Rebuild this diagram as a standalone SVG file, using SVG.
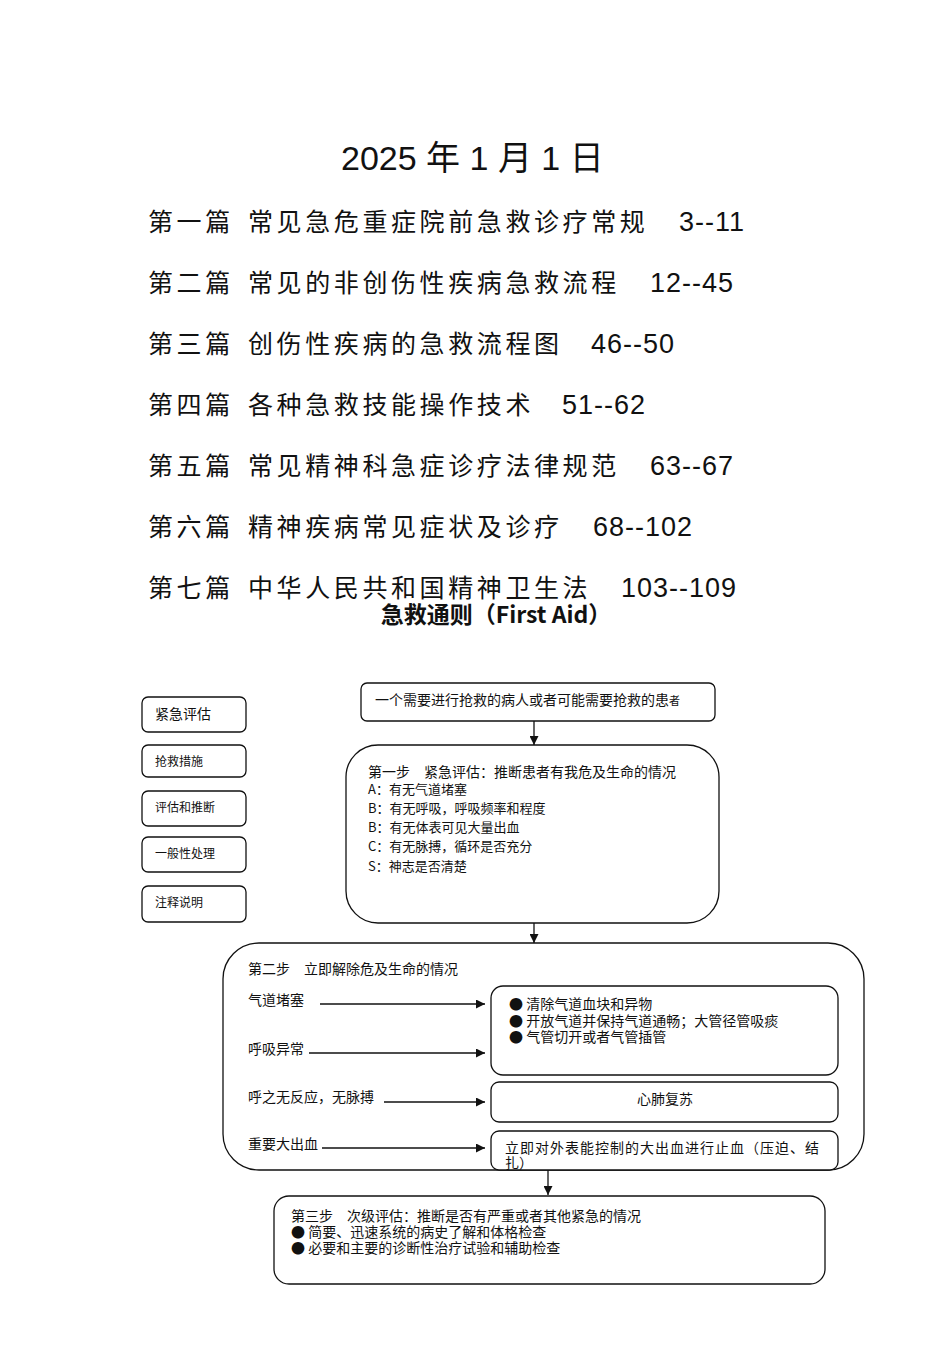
<svg xmlns="http://www.w3.org/2000/svg" width="950" height="1346" viewBox="0 0 950 1346">
<style>
.cjk{font-family:"Noto Sans CJK SC","Liberation Sans",sans-serif;fill:#111}
.num{font-family:"Liberation Sans","Noto Sans CJK SC",sans-serif;fill:#111}
.toc{font-size:25px;letter-spacing:3.6px}
.tnum{font-size:27px;letter-spacing:1px}
.box{fill:#fff;stroke:#111;stroke-width:1.3}
.t14{font-size:14px}
.t13{font-size:13px}
.t12{font-size:12px}
.con{stroke:#111;stroke-width:1.3;fill:none}
</style>
<defs>
<marker id="ah" viewBox="0 0 10 10" refX="10" refY="5" markerWidth="10" markerHeight="9" markerUnits="userSpaceOnUse" orient="auto">
<path d="M0,0 L10,5 L0,10 z" fill="#111"/>
</marker>
</defs>
<rect width="950" height="1346" fill="#fff"/>

<g id="title">
<text class="num" x="341" y="170" font-size="34">2025 <tspan class="cjk">年</tspan> 1 <tspan class="cjk">月</tspan> 1 <tspan class="cjk">日</tspan></text>
</g>

<g id="toc">
<text class="cjk toc" x="148" y="231">第一篇</text><text class="cjk toc" x="248" y="231">常见急危重症院前急救诊疗常规</text><text class="num tnum" x="679" y="231">3--11</text>
<text class="cjk toc" x="148" y="292">第二篇</text><text class="cjk toc" x="248" y="292">常见的非创伤性疾病急救流程</text><text class="num tnum" x="650" y="292">12--45</text>
<text class="cjk toc" x="148" y="353">第三篇</text><text class="cjk toc" x="248" y="353">创伤性疾病的急救流程图</text><text class="num tnum" x="591" y="353">46--50</text>
<text class="cjk toc" x="148" y="414">第四篇</text><text class="cjk toc" x="248" y="414">各种急救技能操作技术</text><text class="num tnum" x="562" y="414">51--62</text>
<text class="cjk toc" x="148" y="475">第五篇</text><text class="cjk toc" x="248" y="475">常见精神科急症诊疗法律规范</text><text class="num tnum" x="650" y="475">63--67</text>
<text class="cjk toc" x="148" y="536">第六篇</text><text class="cjk toc" x="248" y="536">精神疾病常见症状及诊疗</text><text class="num tnum" x="593" y="536">68--102</text>
<text class="cjk toc" x="148" y="597">第七篇</text><text class="cjk toc" x="248" y="597">中华人民共和国精神卫生法</text><text class="num tnum" x="621" y="597">103--109</text>
</g>

<g id="heading">
<text class="cjk" x="496" y="623" font-size="23" font-weight="bold" text-anchor="middle">急救通则（First Aid）</text>
</g>

<g id="legend">
<g id="legend-1"><rect class="box" x="142" y="697" width="104" height="35" rx="6"/><text class="cjk t14" x="155" y="719">紧急评估</text></g>
<g id="legend-2"><rect class="box" x="142" y="745" width="104" height="32" rx="6"/><text class="cjk t12" x="155" y="766">抢救措施</text></g>
<g id="legend-3"><rect class="box" x="142" y="791" width="104" height="35" rx="6"/><text class="cjk t12" x="155" y="812">评估和推断</text></g>
<g id="legend-4"><rect class="box" x="142" y="837" width="104" height="35" rx="6"/><text class="cjk t12" x="155" y="858">一般性处理</text></g>
<g id="legend-5"><rect class="box" x="142" y="886" width="104" height="36" rx="6"/><text class="cjk t12" x="155" y="907">注释说明</text></g>
</g>

<g id="start">
<rect class="box" x="361" y="683" width="354" height="38" rx="6"/>
<text class="cjk t14" x="375" y="705">一个需要进行抢救的病人或者可能需要抢救的患<tspan font-size="11">者</tspan></text>
</g>

<g id="step1">
<rect class="box" x="346" y="745" width="373" height="178" rx="32"/>
<text class="cjk t14" x="368" y="777">第一步　紧急评估：推断患者有我危及生命的情况</text>
<text class="cjk t13" x="368" y="794">A：有无气道堵塞</text>
<text class="cjk t13" x="368" y="813">B：有无呼吸，呼吸频率和程度</text>
<text class="cjk t13" x="368" y="832">B：有无体表可见大量出血</text>
<text class="cjk t13" x="368" y="851">C：有无脉搏，循环是否充分</text>
<text class="cjk t13" x="368" y="871">S：神志是否清楚</text>
</g>

<g id="step2">
<rect class="box" x="223" y="943" width="641" height="227" rx="36"/>
<text class="cjk t14" x="248" y="974">第二步　立即解除危及生命的情况</text>
<text class="cjk t14" x="248" y="1005">气道堵塞</text>
<text class="cjk t14" x="248" y="1054">呼吸异常</text>
<text class="cjk t14" x="248" y="1102">呼之无反应，无脉搏</text>
<text class="cjk t14" x="248" y="1149">重要大出血</text>
</g>

<g id="airway-box">
<rect class="box" x="491" y="986" width="347" height="89" rx="12"/>
<text class="cjk t14" x="509" y="1009">● 清除气道血块和异物</text>
<text class="cjk t14" x="509" y="1026">● 开放气道并保持气道通畅；大管径管吸痰</text>
<text class="cjk t14" x="509" y="1042">● 气管切开或者气管插管</text>
</g>

<g id="cpr-box">
<rect class="box" x="491" y="1082" width="347" height="40" rx="8"/>
<text class="cjk t14" x="665" y="1104" text-anchor="middle">心肺复苏</text>
</g>

<g id="bleed-box">
<rect class="box" x="491" y="1131" width="347" height="39" rx="8"/>
<text class="cjk t14" x="505" y="1153" letter-spacing="1">立即对外表能控制的大出血进行止血（压迫、结</text>
<text class="cjk t14" x="505" y="1168">扎）</text>
</g>

<g id="step3">
<rect class="box" x="274" y="1196" width="551" height="88" rx="15"/>
<text class="cjk t14" x="291" y="1221">第三步　次级评估：推断是否有严重或者其他紧急的情况</text>
<text class="cjk t14" x="291" y="1237">● 简要、迅速系统的病史了解和体格检查</text>
<text class="cjk t14" x="291" y="1253">● 必要和主要的诊断性治疗试验和辅助检查</text>
</g>

<g id="connectors">
<line class="con" x1="534" y1="721" x2="534" y2="745" marker-end="url(#ah)"/>
<line class="con" x1="534" y1="923" x2="534" y2="943" marker-end="url(#ah)"/>
<line class="con" x1="320" y1="1004" x2="485" y2="1004" marker-end="url(#ah)"/>
<line class="con" x1="309" y1="1053" x2="485" y2="1053" marker-end="url(#ah)"/>
<line class="con" x1="384" y1="1102" x2="485" y2="1102" marker-end="url(#ah)"/>
<line class="con" x1="322" y1="1148" x2="485" y2="1148" marker-end="url(#ah)"/>
<line class="con" x1="548" y1="1170" x2="548" y2="1195" marker-end="url(#ah)"/>
</g>
</svg>
